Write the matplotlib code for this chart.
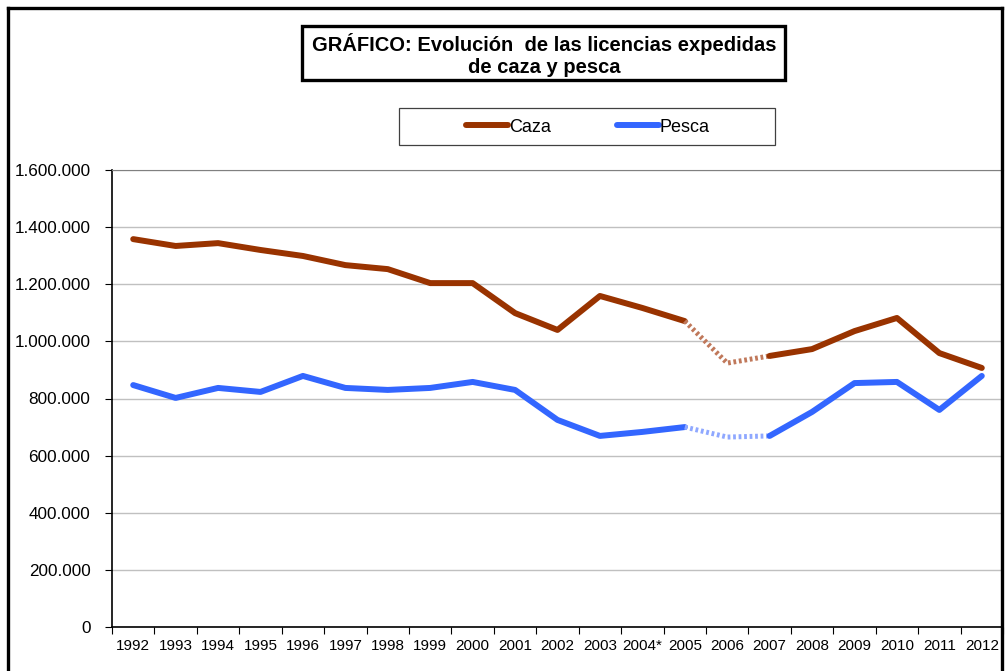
import matplotlib
matplotlib.use("Agg")
import matplotlib.pyplot as plt
from matplotlib.patches import Rectangle
from matplotlib.lines import Line2D
from matplotlib.ticker import FuncFormatter

plt.rcParams['font.family'] = ['Liberation Sans', 'DejaVu Sans']

years = ["1992", "1993", "1994", "1995", "1996", "1997", "1998", "1999", "2000",
         "2001", "2002", "2003", "2004*", "2005", "2006", "2007", "2008", "2009",
         "2010", "2011", "2012"]
caza = [1358000, 1334000, 1344000, 1320000, 1299000, 1267000, 1253000, 1204000,
        1204000, 1099000, 1040000, 1159000, 1117000, 1071000, 924000, 949000,
        973000, 1036000, 1082000, 959000, 907000]
pesca = [847000, 802000, 837000, 823000, 879000, 837000, 830000, 837000,
         858000, 830000, 725000, 669000, 683000, 700000, 665000, 669000,
         753000, 854000, 858000, 760000, 879000]

# 2005-2007 drawn dotted
gap_start, gap_end = 13, 15

W, H = 1008, 671
fig = plt.figure(figsize=(W / 100, H / 100), dpi=100)
ax = fig.add_axes([112 / W, 1 - 627 / H, (1003 - 112) / W, (627 - 170) / H])

x = list(range(len(years)))
series = [(caza, "#993300", "#c0785a", "Caza"), (pesca, "#3366FF", "#8fa8ff", "Pesca")]
for vals, col, light, name in series:
    ax.plot(x[:gap_start + 1], vals[:gap_start + 1], color=col, lw=4.3,
            solid_capstyle="round", solid_joinstyle="round", label=name)
    ax.plot(x[gap_start:gap_end + 1], vals[gap_start:gap_end + 1], color=light,
            lw=3.6, linestyle=(0, (0.55, 0.55)), dash_capstyle="butt")
    ax.plot(x[gap_end:], vals[gap_end:], color=col, lw=4.3,
            solid_capstyle="round", solid_joinstyle="round")

ax.set_xlim(-0.5, len(years) - 0.5)
ax.set_ylim(0, 1600000)
ax.set_yticks(range(0, 1600001, 200000))
ax.yaxis.set_major_formatter(FuncFormatter(lambda v, p: f"{int(v):,}".replace(",", ".")))
ax.grid(axis="y", color="#c0c0c0", lw=1)
ax.set_axisbelow(True)

ax.set_xticks([i - 0.5 for i in range(len(years) + 1)])
ax.set_xticklabels([])
ax.set_xticks(x, minor=True)
ax.set_xticklabels(years, minor=True)
ax.tick_params(axis="x", which="minor", length=0, pad=9, labelsize=11)
ax.tick_params(axis="x", which="major", length=5, width=0.8, color="black")
ax.tick_params(axis="y", length=5, width=0.8, labelsize=12.3, pad=10.5)

for s in ["left", "bottom"]:
    ax.spines[s].set_color("black")
    ax.spines[s].set_linewidth(1.2)
ax.spines["top"].set_color("#808080")
ax.spines["right"].set_visible(False)

# outer chart frame (bottom edge out of view)
fx0, fx1, fy1 = 8 / W, 1002 / W, 1 - 8 / H
for xs, ys in [([fx0, fx0], [0, fy1]), ([fx0, fx1], [fy1, fy1]), ([fx1, fx1], [fy1, 0])]:
    fig.add_artist(Line2D(xs, ys, transform=fig.transFigure, color="black", lw=2.4))

# title box
fig.add_artist(Rectangle((302 / W, 1 - 80 / H), 483 / W, 54 / H, transform=fig.transFigure,
                         fill=False, edgecolor="black", lw=2.4))
fig.text(544 / W, 1 - 55 / H, "GRÁFICO: Evolución  de las licencias expedidas\nde caza y pesca",
         ha="center", va="center", fontsize=14.5, fontweight="bold", linespacing=1.2)

# legend box
fig.add_artist(Rectangle((399 / W, 1 - 145 / H), 376 / W, 37 / H, transform=fig.transFigure,
                         fill=False, edgecolor="#404040", lw=0.9))
handles, labels = ax.get_legend_handles_labels()
fig.legend(handles, labels, loc="center", bbox_to_anchor=(588 / W, 1 - 127 / H), ncol=2,
           frameon=False, fontsize=13, handlelength=2.3, handletextpad=0.05, columnspacing=3.7)

fig.savefig("out.png", dpi=100)
